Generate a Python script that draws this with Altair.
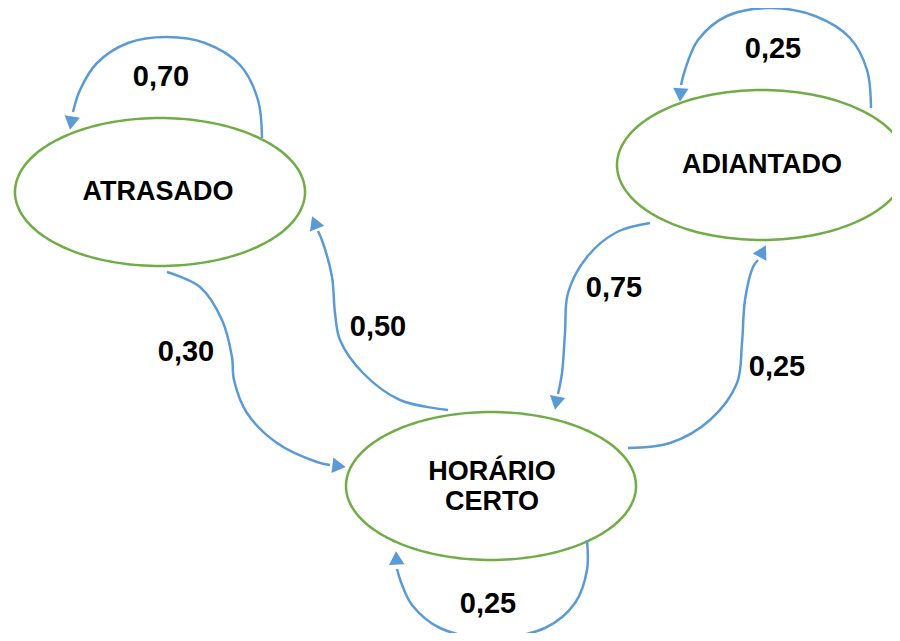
import numpy as np
import pandas as pd
import altair as alt

# ---- data (image pixel coordinates) ----
node_names = ["ATRASADO", "ADIANTADO", "HORÁRIO CERTO"]
node_cx = [160, 762, 491]
node_cy = [192, 165, 486]
node_rx = [145, 145, 145]
node_ry = [74, 75, 74]

node_text = ["ATRASADO", "ADIANTADO", "HORÁRIO", "CERTO"]
node_text_x = [158, 762, 492, 492]
node_text_y = [192, 165, 472, 502]

prob_labels = ["0,70", "0,25", "0,25", "0,30", "0,50", "0,75", "0,25"]
prob_x = [161, 773, 488, 186, 378, 614, 777]
prob_y = [77, 49, 604, 352, 327, 288, 367]

edge_ids = ["A->A", "D->D", "H->H", "A->H", "H->A", "D->H", "H->D"]
edge_x = [
    [262, 258, 240, 205, 167, 128, 97, 80, 73],
    [871, 867, 850, 815, 770, 727, 698, 685, 681],
    [587, 587, 575, 545, 490, 440, 412, 401, 397],
    [167, 200, 222, 232, 234, 247, 277, 317, 330],
    [448, 400, 363, 340, 335, 332, 323, 318],
    [650, 617, 587, 568, 565, 562, 558],
    [628, 670, 710, 737, 742, 745, 753, 758],
]
edge_y = [
    [138, 100, 65, 43, 37, 43, 63, 90, 112],
    [108, 70, 38, 16, 8, 16, 40, 70, 85],
    [540, 570, 603, 628, 638, 628, 605, 582, 569],
    [272, 287, 320, 357, 380, 413, 443, 462, 465],
    [410, 400, 373, 340, 313, 277, 243, 231],
    [223, 232, 257, 293, 333, 373, 394],
    [448, 443, 420, 383, 343, 300, 267, 260],
]
tip_x = [70, 680, 396, 346, 312, 555, 766]
tip_y = [130, 102, 551, 467, 216, 410, 245]

GREEN = "#70AD47"
BLUE = "#5B9BD5"
FONT = "Liberation Sans"

# ---- derived tables ----
ell_rows = []
t = np.linspace(0, 2 * np.pi, 181)
for n, cx, cy, rx, ry in zip(node_names, node_cx, node_cy, node_rx, node_ry):
    for i, a in enumerate(t):
        ell_rows.append({"id": n, "o": i, "x": cx + rx * np.cos(a), "y": cy + ry * np.sin(a)})
ell_df = pd.DataFrame(ell_rows)

edge_rows = []
for eid, xs_, ys_ in zip(edge_ids, edge_x, edge_y):
    for i, (x, y) in enumerate(zip(xs_, ys_)):
        edge_rows.append({"id": eid, "o": i, "x": x, "y": y})
edge_df = pd.DataFrame(edge_rows)

arrow_rows = []
for eid, xs_, ys_, tx, ty in zip(edge_ids, edge_x, edge_y, tip_x, tip_y):
    dx, dy = tx - xs_[-1], ty - ys_[-1]
    L = np.hypot(dx, dy)
    ux, uy = dx / L, dy / L
    ang = (np.degrees(np.arctan2(dx, -dy)) + 360) % 360
    arrow_rows.append({"id": eid, "x": tx - 7 * ux, "y": ty - 7 * uy, "angle": ang})
arrow_df = pd.DataFrame(arrow_rows)

text_df = pd.DataFrame({"x": node_text_x, "y": node_text_y, "t": node_text})
prob_df = pd.DataFrame({"x": prob_x, "y": prob_y, "t": prob_labels})

xs = alt.Scale(domain=[8, 892], nice=False, zero=False)
ys = alt.Scale(domain=[8, 633], nice=False, zero=False, reverse=True)
X = alt.X("x:Q", scale=xs, axis=None)
Y = alt.Y("y:Q", scale=ys, axis=None)

ellipses = alt.Chart(ell_df).mark_line(color=GREEN, strokeWidth=2.5, clip=True).encode(
    x=X, y=Y, detail="id:N", order="o:Q"
)
edges = alt.Chart(edge_df).mark_line(color=BLUE, strokeWidth=2.5, interpolate="catmull-rom", clip=True).encode(
    x=X, y=Y, detail="id:N", order="o:Q"
)
arrows = alt.Chart(arrow_df).mark_point(
    shape="triangle-up", filled=True, color=BLUE, size=240, opacity=1
).encode(x=X, y=Y, angle=alt.Angle("angle:Q", scale=None))

node_labels = alt.Chart(text_df).mark_text(
    font=FONT, fontWeight="bold", fontSize=27, color="#000000", align="center", baseline="middle"
).encode(x=X, y=Y, text="t:N")
probs = alt.Chart(prob_df).mark_text(
    font=FONT, fontWeight="bold", fontSize=29, color="#000000", align="center", baseline="middle"
).encode(x=X, y=Y, text="t:N")

chart = alt.layer(ellipses, edges, arrows, node_labels, probs).properties(
    width=884, height=625, padding=0, autosize=alt.AutoSizeParams(type="none"), background="white"
).configure_view(stroke=None)

chart.save("out.html", embed_options={"renderer": "svg", "actions": False})
